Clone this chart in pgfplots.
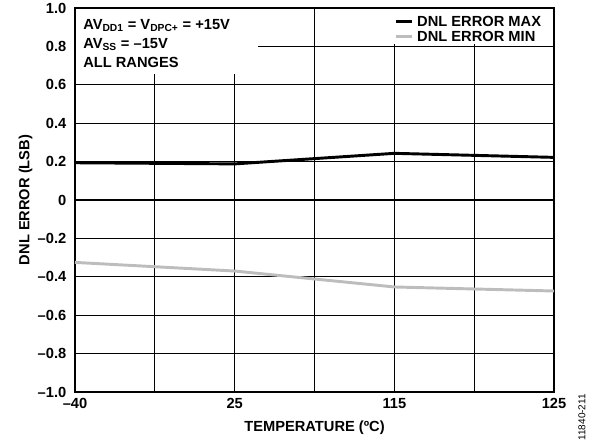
\documentclass[border=0pt]{standalone}
\usepackage{pgfplots}
\pgfplotsset{compat=1.18}
\usepackage{fontspec}
\setmainfont{Liberation Sans}
\definecolor{mingray}{HTML}{BDBDBD}
\begin{document}
\begin{tikzpicture}
\begin{axis}[
  scale only axis,
  width=359.25pt, height=288pt,
  xmin=0, xmax=3, ymin=-1, ymax=1,
  xtick={0,1,2,3},
  xticklabels={–40,25,115,125},
  minor xtick={0.5,1.5,2.5},
  ytick={-1,-0.8,-0.6,-0.4,-0.2,0,0.2,0.4,0.6,0.8,1},
  yticklabels={–1.0,–0.8,–0.6,–0.4,–0.2,0,0.2,0.4,0.6,0.8,1.0},
  xmajorgrids, xminorgrids, ymajorgrids,
  grid style={black, line width=0.8pt},
  minor grid style={black, line width=0.8pt},
  tick style={draw=none},
  axis line style={line width=1.3pt},
  ticklabel style={font=\fontsize{11}{13}\selectfont\bfseries},
  yticklabel style={xshift=-3pt},
  xticklabel style={yshift=-1pt},
  xlabel={TEMPERATURE (ºC)},
  ylabel={DNL ERROR (LSB)},
  every axis x label/.style={at={(axis description cs:0.5,-0.094)}, anchor=center,
    font=\fontsize{11}{13}\selectfont\bfseries},
  every axis y label/.style={at={(axis description cs:-0.103,0.5)}, anchor=center, rotate=90,
    font=\fontsize{11}{13}\selectfont\bfseries},
  legend style={at={(rel axis cs:1,1)}, anchor=north east, xshift=-7pt, yshift=-4.5pt,
    draw=none, fill=none, inner sep=0pt, row sep=0pt,
    font=\fontsize{11}{13}\selectfont\bfseries,
    nodes={inner ysep=1.5pt, inner xsep=2.5pt, text height=8pt, text depth=0pt}},
  legend image code/.code={\draw[#1] (0pt,0pt) -- (12pt,0pt);},
  legend cell align=left,
]
% white boxes behind the annotation and the legend
\fill[white] ([xshift=0.8pt,yshift=-0.8pt]rel axis cs:0,1) rectangle (rel axis cs:0.382,0.828);
\fill[white] (axis cs:1.94,0.81) rectangle ([xshift=-0.8pt,yshift=-0.8pt]rel axis cs:1,1);
\addplot[black, line width=2.2pt] coordinates {(0,0.194) (1,0.188) (2,0.243) (3,0.222)};
\addlegendentry{DNL ERROR MAX}
\addplot[mingray, line width=2.2pt] coordinates {(0,-0.325) (1,-0.370) (2,-0.453) (3,-0.474)};
\addlegendentry{DNL ERROR MIN}
\node[anchor=north west, inner sep=0pt, align=left, font=\fontsize{11}{14}\selectfont\bfseries]
  at ([xshift=6pt,yshift=-8.5pt]rel axis cs:0,1)
  {AV\textsubscript{DD1} = V\textsubscript{DPC+} = +15V\\AV\textsubscript{SS} = –15V\\ALL RANGES};
\coordinate (bl) at (rel axis cs:0,0);
\coordinate (br) at (rel axis cs:1,0);
\end{axis}
\node[rotate=90, anchor=center, font=\fontsize{7.5}{9}\selectfont]
  at ([xshift=21pt,yshift=-19pt]br) {11840-211};
\pgfresetboundingbox
\path (bl) ++(-56.25pt,-39.75pt) rectangle ++(452.25pt,333.75pt);
\end{tikzpicture}
\end{document}
